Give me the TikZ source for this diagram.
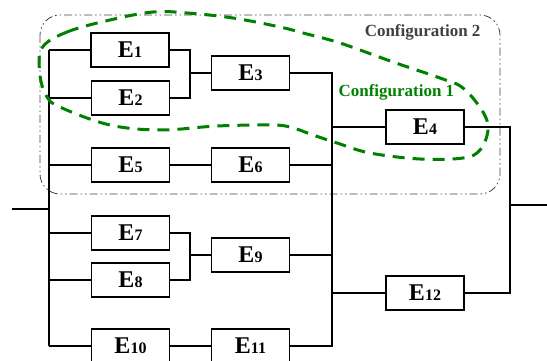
\documentclass[tikz,border=0pt]{standalone}
\usepackage{fontspec}
\setmainfont{Liberation Serif}[BoldFont={Liberation Serif Bold}]
\begin{document}
\begin{tikzpicture}[x=1pt,y=-1pt,
  blk/.style={draw,line width=1.5pt,minimum width=78pt,minimum height=34pt,inner sep=0pt,fill=white},
  wire/.style={line width=1.6pt},
  cfgtwo/.style={draw=black!75,line width=0.8pt,rounded corners=20pt,
     dash pattern=on 8pt off 3pt on 1.5pt off 3pt on 1.5pt off 3pt},
  cfgone/.style={draw=green!50!black,line width=3pt,dash pattern=on 12pt off 8pt},
  lbl/.style={font=\bfseries\fontsize{17}{17}\selectfont}]
\newcommand{\En}[1]{{\fontsize{24}{24}\selectfont E}{\fontsize{16}{16}\selectfont #1}}
\useasboundingbox (0,0) rectangle (547,361);
% configuration 2 frame
\draw[cfgtwo] (40,15) rectangle (500,194);
% boxes
\node[blk] (E1) at (130,50) {\bfseries\En{1}};
\node[blk] (E2) at (130.5,98) {\bfseries\En{2}};
\node[blk] (E3) at (250.5,73) {\bfseries\En{3}};
\node[blk] (E4) at (425,127) {\bfseries\En{4}};
\node[blk] (E5) at (130.5,165) {\bfseries\En{5}};
\node[blk] (E6) at (250.5,165) {\bfseries\En{6}};
\node[blk] (E7) at (130.5,233) {\bfseries\En{7}};
\node[blk] (E8) at (130.5,280) {\bfseries\En{8}};
\node[blk] (E9) at (250.5,255) {\bfseries\En{9}};
\node[blk] (E10) at (130.5,346) {\bfseries\En{10}};
\node[blk] (E11) at (250.5,346) {\bfseries\En{11}};
\node[blk] (E12) at (425,293) {\bfseries\En{12}};
% bus coordinates
\coordinate (L) at (49,0);
\coordinate (J1) at (190,0);
\coordinate (R) at (332,0);
\coordinate (O) at (510,0);
\coordinate (in) at (12,209);
\coordinate (out) at (547,205);
% left bus
\draw[wire] (E1.west -| L) -- (E10.west -| L);
\draw[wire] (in) -- (in -| L);
\foreach \n in {E1,E2,E5,E7,E8,E10} \draw[wire] (\n.west -| L) -- (\n.west);
% parallel joins
\draw[wire] (E1.east) -- (E1.east -| J1) -- (E2.east -| J1) -- (E2.east);
\draw[wire] (E3.west -| J1) -- (E3.west);
\draw[wire] (E7.east) -- (E7.east -| J1) -- (E8.east -| J1) -- (E8.east);
\draw[wire] (E9.west -| J1) -- (E9.west);
\draw[wire] (E5.east) -- (E6.west);
\draw[wire] (E10.east) -- (E11.west);
% right bus
\draw[wire] (E3.east) -- (E3.east -| R) -- (E11.east -| R) -- (E11.east);
\foreach \n in {E6,E9} \draw[wire] (\n.east) -- (\n.east -| R);
\foreach \n in {E4,E12} \draw[wire] (\n.west -| R) -- (\n.west);
% output
\draw[wire] (E4.east) -- (E4.east -| O) -- (E12.east -| O) -- (E12.east);
\draw[wire] (out -| O) -- (out);
% configuration 1 curve
\draw[cfgone] plot[smooth cycle,tension=0.6] coordinates {
 (42,48) (67,32) (110,20) (153,12) (187,13) (233,18) (280,27) (303,33) (340,43)
 (393,62) (440,78) (463,88) (483,112) (488,130) (480,150) (463,158) (420,159)
 (370,153) (337,143) (313,135) (290,127) (270,125) (217,126) (160,130) (110,125)
 (62,108) (47,97) (40,75)};
% labels
\node[lbl,text=black!75,anchor=base east] (c2) at (484,37) {Configuration 2};
\node[lbl,text=green!50!black,anchor=base west] (c1) at (335,96) {Configuration 1};
\end{tikzpicture}
\end{document}
